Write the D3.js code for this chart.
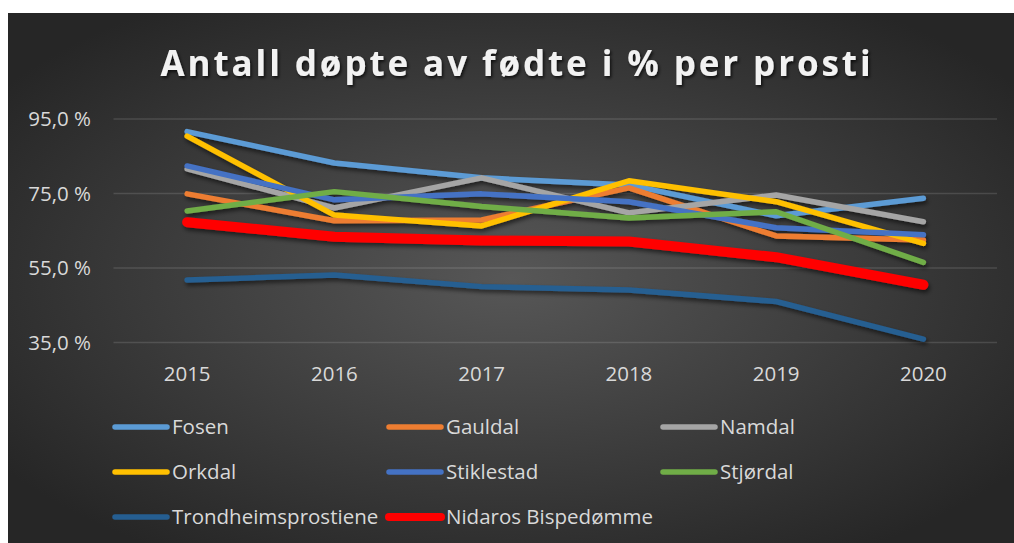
<!DOCTYPE html>
<html>
<head>
<meta charset="utf-8">
<script src="https://cdn.jsdelivr.net/npm/d3@7"></script>
<style>
  body { margin: 0; background: #fff; }
  svg { display: block; }
  .tick-label { fill: #d9d9d9; font-family: "Open Sans", sans-serif; font-size: 20.5px; }
  .legend-label { fill: #d9d9d9; font-family: "Open Sans", sans-serif; font-size: 20.5px; }
  .title { fill: #f2f2f2; font-family: "Open Sans", sans-serif; font-size: 35px; font-weight: bold; letter-spacing: 2.9px; }
</style>
</head>
<body>
<svg id="chart"></svg>
<script>
var years = ["2015", "2016", "2017", "2018", "2019", "2020"];
var yTicks = [35, 55, 75, 95];

var fosen      = [91.6, 83.2, 79.2, 77.3, 69.0, 73.7];
var gauldal    = [74.9, 67.7, 67.9, 76.5, 63.6, 62.5];
var namdal     = [81.6, 71.1, 79.2, 69.8, 74.6, 67.4];
var orkdal     = [90.4, 69.2, 66.3, 78.4, 72.8, 61.6];
var stiklestad = [82.4, 73.3, 74.9, 72.8, 65.8, 63.9];
var stjordal   = [70.3, 75.5, 71.5, 68.4, 70.1, 56.5];
var trondheim  = [51.8, 53.1, 50.0, 49.1, 46.0, 35.9];
var nidaros    = [67.3, 63.4, 62.4, 62.1, 57.9, 50.5];

var seriesNames = ["Fosen", "Gauldal", "Namdal", "Orkdal", "Stiklestad", "Stjørdal", "Trondheimsprostiene", "Nidaros Bispedømme"];
var seriesValues = [fosen, gauldal, namdal, orkdal, stiklestad, stjordal, trondheim, nidaros];
var seriesColors = ["#5b9bd5", "#ed7d31", "#a5a5a5", "#ffc000", "#4472c4", "#70ad47", "#255e91", "#ff0000"];

var W = 1014, H = 543;
var svg = d3.select("#chart").attr("width", W).attr("height", H);

var defs = svg.append("defs");
var grad = defs.append("radialGradient").attr("id", "bg")
  .attr("cx", "50%").attr("cy", "50%").attr("r", "62%");
grad.append("stop").attr("offset", "0%").attr("stop-color", "#575757");
grad.append("stop").attr("offset", "100%").attr("stop-color", "#262626");

var shadow = defs.append("filter").attr("id", "shadow")
  .attr("x", "-10%").attr("y", "-30%").attr("width", "120%").attr("height", "160%");
shadow.append("feDropShadow").attr("dx", 1.5).attr("dy", 3).attr("stdDeviation", 2.2)
  .attr("flood-color", "#000").attr("flood-opacity", 0.55);

var tshadow = defs.append("filter").attr("id", "tshadow");
tshadow.append("feDropShadow").attr("dx", 1.5).attr("dy", 2).attr("stdDeviation", 1.5)
  .attr("flood-color", "#000").attr("flood-opacity", 0.7);

//Background panel
svg.append("rect").attr("x", 8).attr("y", 13).attr("width", W - 8).attr("height", H - 13)
  .attr("fill", "url(#bg)");

//Title
svg.append("text").attr("class", "title")
  .attr("x", 517).attr("y", 76).attr("text-anchor", "middle")
  .attr("filter", "url(#tshadow)")
  .text("Antall døpte av fødte i % per prosti");

//Scales
var x = d3.scaleBand().domain(years).range([113.5, 997]);
var y = d3.scaleLinear().domain([35, 95]).range([342.5, 119]);

//Gridlines
svg.append("g").selectAll("line").data(yTicks).enter().append("line")
  .attr("x1", 113.5).attr("x2", 997)
  .attr("y1", function(d) { return y(d); })
  .attr("y2", function(d) { return y(d); })
  .style("stroke", "#ffffff").style("stroke-opacity", 0.13).style("stroke-width", 1.5);

//Y axis labels
var yAxis = svg.append("g").attr("transform", "translate(97,0)")
  .call(d3.axisLeft(y).tickValues(yTicks).tickSize(0).tickPadding(6)
    .tickFormat(function(d) { return d3.format(".1f")(d).replace(".", ",") + " %"; }));
yAxis.select(".domain").remove();
yAxis.selectAll("text").attr("class", "tick-label").attr("fill", null);

//X axis labels
var xAxis = svg.append("g").attr("transform", "translate(0,366)")
  .call(d3.axisBottom(x).tickSize(0).tickPadding(0));
xAxis.select(".domain").remove();
xAxis.selectAll("text").attr("class", "tick-label").attr("fill", null);

//Lines
var line = d3.line()
  .x(function(d, i) { return x(years[i]) + x.bandwidth() / 2; })
  .y(function(d) { return y(d); });

svg.append("g").attr("filter", "url(#shadow)")
  .selectAll("path").data(seriesValues).enter().append("path")
  .attr("d", line)
  .style("fill", "none")
  .style("stroke", function(d, i) { return seriesColors[i]; })
  .style("stroke-width", function(d, i) { return i === 7 ? 10 : 5.5; })
  .style("stroke-linecap", "round")
  .style("stroke-linejoin", "round");

//Legend
var legendCols = [112, 386, 660];
var legendRows = [427, 472, 517];
var legend = svg.append("g").selectAll("g").data(seriesNames).enter().append("g")
  .attr("transform", function(d, i) {
    return "translate(" + legendCols[i % 3] + "," + legendRows[Math.floor(i / 3)] + ")";
  });
legend.append("line")
  .attr("x1", 3).attr("x2", 55).attr("y1", 0).attr("y2", 0)
  .style("stroke", function(d, i) { return seriesColors[i]; })
  .style("stroke-width", function(d, i) { return i === 7 ? 8 : 5.5; })
  .style("stroke-linecap", "round");
legend.append("text").attr("class", "legend-label")
  .attr("x", 60).attr("y", 0).attr("dy", "0.35em")
  .text(function(d) { return d; });
</script>
</body>
</html>
